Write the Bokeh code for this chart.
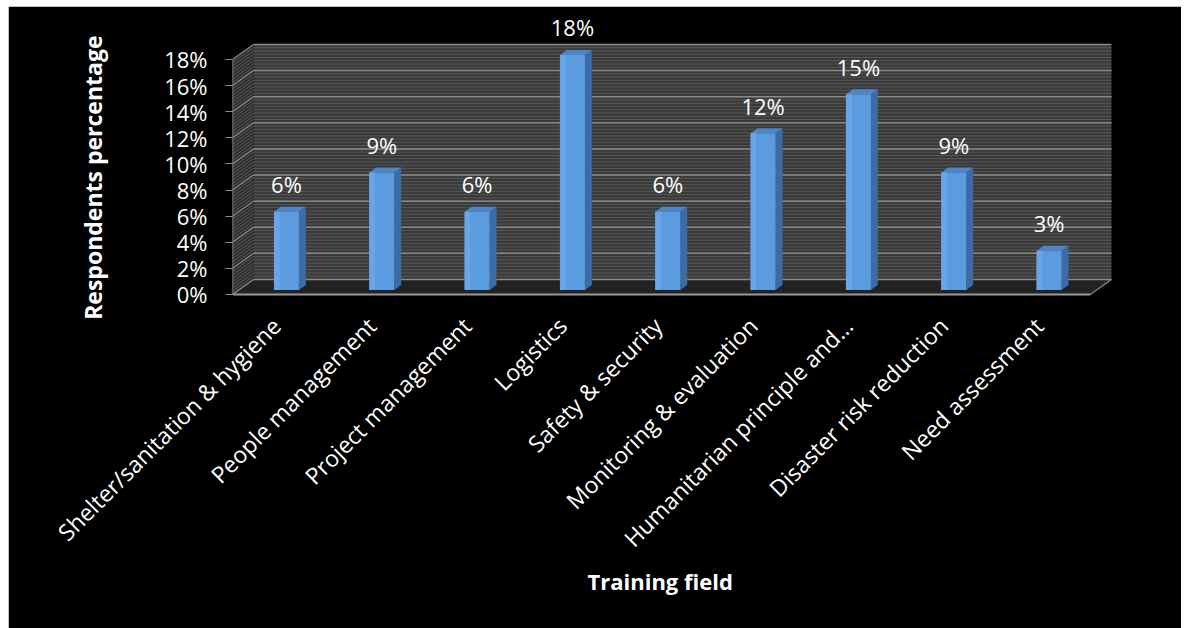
import numpy as np
from math import pi
from bokeh.plotting import figure
from bokeh.models import FixedTicker, Range1d, Title
from bokeh.embed import file_html
from bokeh.resources import INLINE
from bokeh.core.properties import value

# ---------------- data ----------------
categories = [
    "Shelter/sanitation & hygiene",
    "People management",
    "Project management",
    "Logistics",
    "Safety & security",
    "Monitoring & evaluation",
    "Humanitarian principle and\u2026",
    "Disaster risk reduction",
    "Need assessment",
]
values = [6, 9, 6, 18, 6, 12, 15, 9, 3]
y_ticks = [0, 2, 4, 6, 8, 10, 12, 14, 16, 18]
y_tick_labels = ["0%", "2%", "4%", "6%", "8%", "10%", "12%", "14%", "16%", "18%"]
value_labels = ["6%", "9%", "6%", "18%", "6%", "12%", "15%", "9%", "3%"]
x_title = "Training field"
y_title = "Respondents percentage"

FONT = "Open Sans"

# ---------------- figure ----------------
p = figure(
    width=1173, height=622, margin=(6, 6, 0, 8),
    x_range=Range1d(-0.5, 8.815), y_range=Range1d(-0.46, 21.75),
    output_backend="svg", toolbar_location=None,
    min_border_left=224, min_border_right=61, min_border_top=4, min_border_bottom=328,
)
p.background_fill_color = "black"
p.border_fill_color = "black"
p.outline_line_color = "black"
p.outline_line_width = 3
p.grid.visible = False

# y axis
p.yaxis.ticker = FixedTicker(ticks=y_ticks)
p.yaxis.major_label_overrides = dict(zip(y_ticks, y_tick_labels))
p.yaxis.axis_line_color = None
p.yaxis.major_tick_line_color = "#8c8c8c"
p.yaxis.major_tick_out = 7
p.yaxis.major_tick_in = 0
p.yaxis.minor_tick_line_color = None
p.yaxis.major_label_text_color = "white"
p.yaxis.major_label_text_font = FONT
p.yaxis.major_label_text_font_size = "22px"
p.yaxis.major_label_standoff = 18

# x axis (label anchors sit just left of each category centre)
n = len(categories)
label_pos = [i - 0.04 for i in range(n)]
p.xaxis.ticker = FixedTicker(ticks=label_pos)
p.xaxis.major_label_overrides = {pos: c for pos, c in zip(label_pos, categories)}
p.xaxis.major_label_orientation = pi / 4
p.xaxis.axis_line_color = None
p.xaxis.major_tick_line_color = None
p.xaxis.major_tick_out = 0
p.xaxis.major_tick_in = 0
p.xaxis.minor_tick_line_color = None
p.xaxis.major_label_text_color = "white"
p.xaxis.major_label_text_font = FONT
p.xaxis.major_label_text_font_size = "23px"
p.xaxis.major_label_standoff = 21

# axis titles as side titles
p.add_layout(Title(text=x_title, align="left", offset=355, vertical_align="middle", standoff=-6,
                   text_font=FONT, text_font_size="22px", text_font_style="bold",
                   text_color="white"), "below")
p.add_layout(Title(text=y_title, align="right", offset=25, vertical_align="middle", standoff=104,
                   text_font=FONT, text_font_size="23px", text_font_style="bold",
                   text_color="white"), "left")

# ---------------- 3D walls ----------------
DX, DY = 0.22, 1.15
xl, xr = -0.5, n - 0.5
ymax = max(y_ticks)

# floor
p.patch([xl, xr, xr + DX, xl + DX], [0, 0, DY, DY], fill_color="#222222", line_color=None)
# side wall
p.patch([xl, xl + DX, xl + DX, xl], [0, DY, ymax + DY, ymax], fill_color="#2e2e2e", line_color=None)
# back wall
p.patch([xl + DX, xr + DX, xr + DX, xl + DX], [DY, DY, ymax + DY, ymax + DY],
        fill_color="#3a3a3a", line_color=None)

# fine stripes (texture)
sy = np.arange(0, ymax, 0.25)
p.segment(x0=xl + DX, y0=sy + DY, x1=xr + DX, y1=sy + DY, line_color="#575757", line_width=1)
p.segment(x0=xl, y0=sy, x1=xl + DX, y1=sy + DY, line_color="#5a5a5a", line_width=1)

# grid lines on back wall and side wall
gy = np.array(y_ticks, dtype=float)
p.segment(x0=xl + DX, y0=gy + DY, x1=xr + DX, y1=gy + DY, line_color="#8a8a8a", line_width=1.5)
p.segment(x0=xl, y0=gy, x1=xl + DX, y1=gy + DY, line_color="#8a8a8a", line_width=1.2)

# edges
p.segment(x0=[xl], y0=[0], x1=[xl], y1=[ymax], line_color="#9a9a9a", line_width=1.5)
p.segment(x0=[xl], y0=[0], x1=[xr], y1=[0], line_color="#9a9a9a", line_width=2)
p.segment(x0=[xr], y0=[0], x1=[xr + DX], y1=[DY], line_color="#7a7a7a", line_width=1.5)

# ---------------- 3D bars ----------------
vals = np.array(values, dtype=float)
cx = np.arange(n, dtype=float)
W = 0.131
OX, OY = 0.3 * DX, 0.3 * DY
BX, BY = 0.33 * DX, 0.33 * DY
left = cx - W + OX
right = cx + W + OX
bottom = np.full(n, OY)
top = vals + OY

# side faces
side_xs = [[r, r + BX, r + BX, r] for r in right]
side_ys = [[b, b + BY, t + BY, t] for b, t in zip(bottom, top)]
p.patches(side_xs, side_ys, fill_color="#3b6ca6", line_color=None)
# top faces
top_xs = [[l, r, r + BX, l + BX] for l, r in zip(left, right)]
top_ys = [[t, t, t + BY, t + BY] for t in top]
p.patches(top_xs, top_ys, fill_color="#4f86c8", line_color=None)
# front faces
p.quad(left=left, right=right, bottom=bottom, top=top, fill_color="#5b9be0", line_color=None)
p.quad(left=left, right=left + 0.06, bottom=bottom, top=top, fill_color="#6aa6e6", line_color=None)

# value labels
p.text(x=cx + OX, y=vals + 2.45, text=value_labels, text_align="center",
       text_baseline="alphabetic", text_font=value(FONT), text_font_size="22px",
       text_color="white")

open("out.html", "w").write(file_html(p, INLINE))
